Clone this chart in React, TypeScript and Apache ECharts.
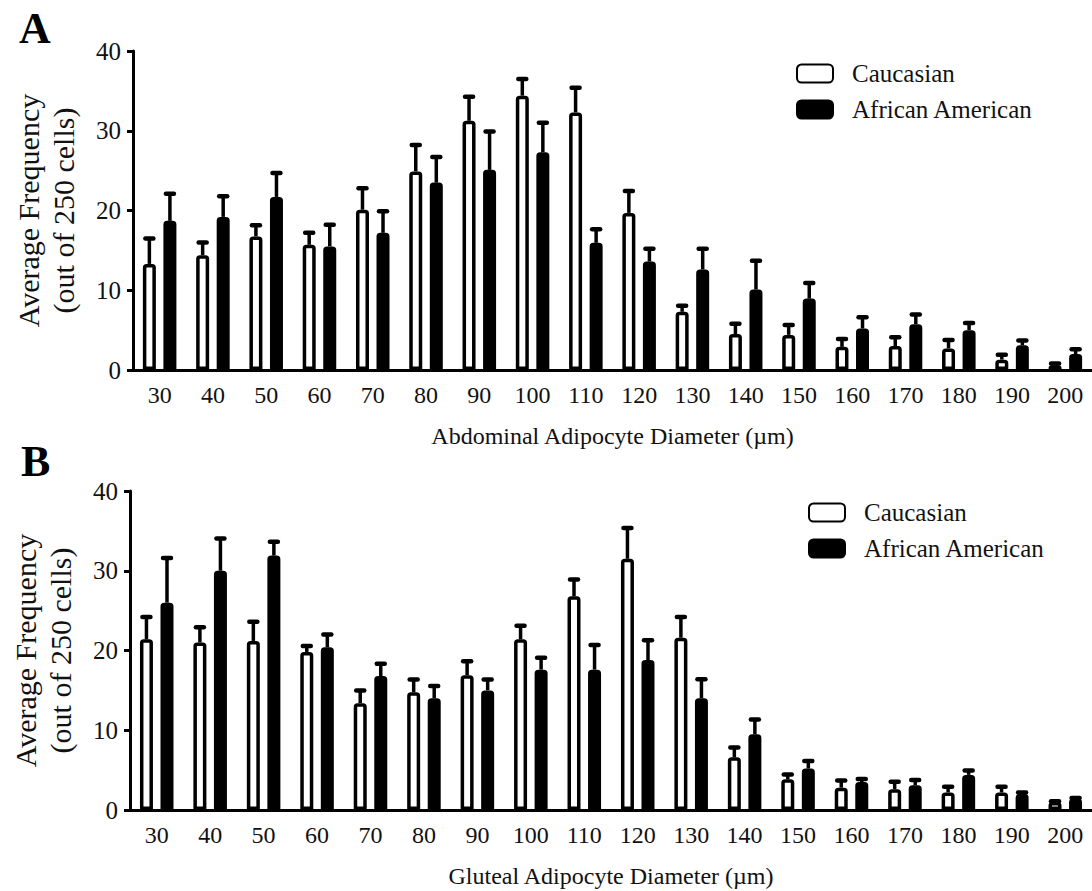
import React, { useEffect, useRef } from "react";
import * as echarts from "echarts";

const categories = ["30", "40", "50", "60", "70", "80", "90", "100", "110", "120", "130", "140", "150", "160", "170", "180", "190", "200"];
const yTicks = [0, 10, 20, 30, 40];

// Panel A – abdominal
const abdCauMean = [13.3, 14.4, 16.75, 15.7, 20.1, 24.9, 31.25, 34.4, 32.3, 19.7, 7.3, 4.5, 4.4, 2.9, 3.0, 2.7, 1.3, 0.6];
const abdCauErr = [3.2, 1.6, 1.4, 1.5, 2.7, 3.3, 3.0, 2.1, 3.1, 2.75, 0.75, 1.3, 1.25, 1.0, 1.1, 1.05, 0.6, 0.2];
const abdAfrMean = [18.7, 19.2, 21.7, 15.5, 17.2, 23.5, 25.1, 27.3, 15.95, 13.6, 12.6, 10.1, 8.95, 5.2, 5.75, 5.0, 3.1, 2.0];
const abdAfrErr = [3.4, 2.6, 3.0, 2.7, 2.7, 3.2, 4.8, 3.7, 1.7, 1.6, 2.6, 3.6, 1.95, 1.4, 1.2, 0.9, 0.6, 0.6];

// Panel B – gluteal
const gluCauMean = [21.4, 21.0, 21.2, 19.8, 13.4, 14.75, 16.9, 21.4, 26.8, 31.5, 21.6, 6.6, 3.85, 2.8, 2.6, 2.2, 2.2, 1.0];
const gluCauErr = [2.8, 1.9, 2.4, 0.75, 1.6, 1.6, 1.75, 1.7, 2.1, 3.85, 2.6, 1.25, 0.6, 0.9, 0.95, 0.7, 0.7, 0.1];
const gluAfrMean = [26.0, 30.0, 31.9, 20.4, 16.8, 14.0, 15.0, 17.6, 17.6, 18.8, 14.0, 9.5, 5.2, 3.5, 3.1, 4.4, 2.0, 1.4];
const gluAfrErr = [5.6, 4.05, 1.75, 1.6, 1.55, 1.55, 1.35, 1.5, 3.1, 2.5, 2.4, 1.85, 0.95, 0.4, 0.65, 0.55, 0.2, 0.1];

const seriesNames = ["Caucasian", "African American"];
const FONT = "'Liberation Serif', 'Times New Roman', serif";
const BAR_W = 13;
const GAP_PCT = 0.58;
const OFFSET = (BAR_W + BAR_W * GAP_PCT) / 2;

function errRender(offset: number) {
  return (_params: any, api: any) => {
    const idx = api.value(0);
    const m = api.value(1);
    const e = api.value(2);
    const b = api.coord([idx, m]);
    const t = api.coord([idx, m + e]);
    const x = b[0] + offset;
    return {
      type: "group",
      children: [
        { type: "line", shape: { x1: x, y1: b[1], x2: x, y2: t[1] }, style: { stroke: "#000", lineWidth: 3.5 } },
        { type: "line", shape: { x1: x - 4, y1: t[1], x2: x + 4, y2: t[1] }, style: { stroke: "#000", lineWidth: 4.5, lineCap: "round" } },
      ],
    };
  };
}

function errData(mean: number[], err: number[]) {
  return mean.map((m, i) => [i, m, err[i]]);
}

function xAxisFor(gridIndex: number, name: string) {
  return {
    type: "category",
    gridIndex,
    data: categories,
    name,
    nameLocation: "middle",
    nameGap: 54,
    nameTextStyle: { fontFamily: FONT, fontSize: 24, color: "#111" },
    axisLine: { lineStyle: { color: "#000", width: 3 } },
    axisTick: { alignWithLabel: true, length: 8, lineStyle: { color: "#000", width: 3 } },
    axisLabel: { fontFamily: FONT, fontSize: 24, color: "#111", margin: 13, interval: 0 },
    splitLine: { show: false },
  };
}

function yAxisFor(gridIndex: number) {
  return {
    type: "value",
    gridIndex,
    min: yTicks[0],
    max: yTicks[yTicks.length - 1],
    interval: 10,
    name: "Average Frequency\n(out of 250 cells)",
    nameLocation: "middle",
    nameGap: 52,
    nameTextStyle: { fontFamily: FONT, fontSize: 30, lineHeight: 35, color: "#111" },
    axisLine: { show: true, lineStyle: { color: "#000", width: 3 } },
    axisTick: { show: true, length: 6, lineStyle: { color: "#000", width: 3 } },
    axisLabel: { fontFamily: FONT, fontSize: 25, color: "#111", margin: 12 },
    splitLine: { show: false },
  };
}

function barSeries(name: string, data: number[], axisIndex: number, fill: string) {
  return {
    name,
    type: "bar",
    xAxisIndex: axisIndex,
    yAxisIndex: axisIndex,
    data,
    barWidth: BAR_W,
    barGap: `${GAP_PCT * 100}%`,
    itemStyle: { color: fill, borderColor: "#000", borderWidth: 3.5, borderRadius: [2, 2, 0, 0] },
    z: 2,
  };
}

function errSeries(name: string, mean: number[], err: number[], axisIndex: number, offset: number) {
  return {
    name,
    type: "custom",
    xAxisIndex: axisIndex,
    yAxisIndex: axisIndex,
    data: errData(mean, err),
    encode: { x: 0, y: 1 },
    renderItem: errRender(offset),
    z: 3,
    silent: true,
  };
}

function legendFor(left: number, top: number) {
  return {
    data: seriesNames,
    orient: "vertical",
    left,
    top,
    itemWidth: 36,
    itemHeight: 18,
    itemGap: 11,
    icon: "roundRect",
    textStyle: { fontFamily: FONT, fontSize: 25, color: "#111", padding: [0, 0, 0, 14] },
  };
}

export default function App() {
  const ref = useRef<HTMLDivElement>(null);
  useEffect(() => {
    if (!ref.current) return;
    const chart = echarts.init(ref.current, undefined, { renderer: "svg" });
    chart.setOption({
      animation: false,
      backgroundColor: "#fff",
      grid: [
        { left: 133, top: 51, width: 961, height: 319 },
        { left: 130, top: 491, width: 963, height: 319 },
      ],
      xAxis: [
        xAxisFor(0, "Abdominal Adipocyte Diameter (\u00b5m)"),
        xAxisFor(1, "Gluteal Adipocyte Diameter (\u00b5m)"),
      ],
      yAxis: [yAxisFor(0), yAxisFor(1)],
      legend: [legendFor(791, 56), legendFor(803, 495)],
      graphic: [
        { type: "text", left: 19, top: 6, style: { text: "A", fontFamily: FONT, fontSize: 44, fontWeight: "bold", fill: "#000" } },
        { type: "text", left: 21, top: 439, style: { text: "B", fontFamily: FONT, fontSize: 44, fontWeight: "bold", fill: "#000" } },
      ],
      series: [
        barSeries(seriesNames[0], abdCauMean, 0, "#fff"),
        barSeries(seriesNames[1], abdAfrMean, 0, "#000"),
        errSeries("Caucasian SEM A", abdCauMean, abdCauErr, 0, -OFFSET),
        errSeries("African American SEM A", abdAfrMean, abdAfrErr, 0, OFFSET),
        barSeries(seriesNames[0], gluCauMean, 1, "#fff"),
        barSeries(seriesNames[1], gluAfrMean, 1, "#000"),
        errSeries("Caucasian SEM B", gluCauMean, gluCauErr, 1, -OFFSET),
        errSeries("African American SEM B", gluAfrMean, gluAfrErr, 1, OFFSET),
      ],
    });
    return () => chart.dispose();
  }, []);
  return <div ref={ref} style={{ position: "absolute", left: 0, top: 0, width: 1092, height: 891 }} />;
}
